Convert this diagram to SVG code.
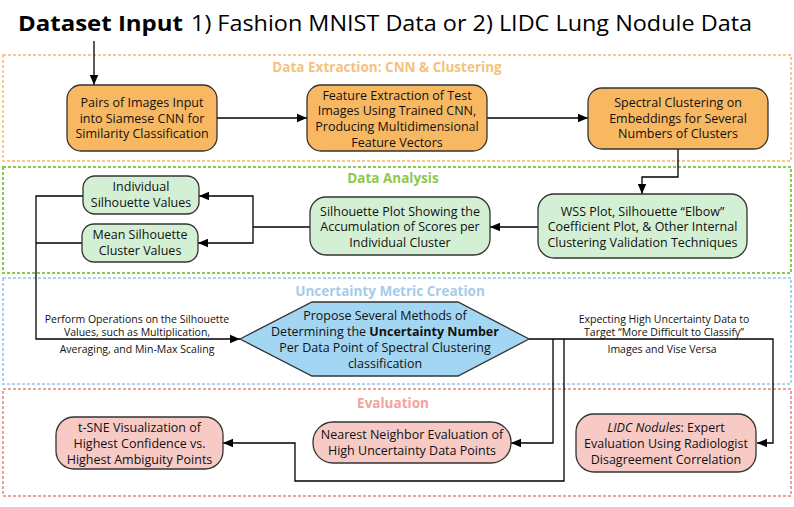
<svg xmlns="http://www.w3.org/2000/svg" width="794" height="507" viewBox="0 0 794 507">
<defs>
<marker id="ah" markerUnits="userSpaceOnUse" markerWidth="10" markerHeight="10" viewBox="0 0 10 10" refX="10" refY="5" orient="auto">
<path d="M0,0.8 L10,5 L0,9.2 Z" fill="#000"/>
</marker>
<style>
.sec{fill:none;stroke-width:2;stroke-dasharray:3 2}
.st{font-family:"Open Sans","Noto Sans",sans-serif;font-weight:bold;font-size:13.5px;text-anchor:middle}
.t{font-family:"Open Sans","Noto Sans",sans-serif;font-size:12.5px;fill:#111;text-anchor:middle}
.s{font-family:"Open Sans","Noto Sans",sans-serif;font-size:10.5px;fill:#111;text-anchor:middle}
.or{fill:#F8B862;stroke:#333;stroke-width:1.3}
.gr{fill:#D4F0D4;stroke:#333;stroke-width:1.3}
.rd{fill:#F8CAC6;stroke:#333;stroke-width:1.3}
.bl{fill:#A3D6F2;stroke:#333;stroke-width:1.3}
.c{fill:none;stroke:#000;stroke-width:1.3}
.a{marker-end:url(#ah)}
</style>
</defs>
<rect width="794" height="507" fill="#fff"/>

<g id="title">
<text x="18" y="31" font-family="Open Sans, Noto Sans, sans-serif" font-size="22" font-weight="bold" fill="#000" textLength="165" lengthAdjust="spacingAndGlyphs">Dataset Input</text>
<text x="191" y="31" font-family="Open Sans, Noto Sans, sans-serif" font-size="22" fill="#000" textLength="561" lengthAdjust="spacingAndGlyphs">1) Fashion MNIST Data or 2) LIDC Lung Nodule Data</text>
</g>

<g id="sections">
<rect class="sec" x="3" y="55" width="788" height="106" stroke="#F6C98B"/>
<text class="st" x="387" y="72" fill="#F5C27D">Data Extraction: CNN &amp; Clustering</text>
<rect class="sec" x="3" y="167" width="788" height="106" stroke="#8DC84E"/>
<text class="st" x="393" y="183" fill="#8DC84E">Data Analysis</text>
<rect class="sec" x="3" y="278" width="788" height="106" stroke="#A9D4EE"/>
<text class="st" x="390" y="296" fill="#A3CDEA">Uncertainty Metric Creation</text>
<rect class="sec" x="3" y="389" width="788" height="107" stroke="#F0A09C"/>
<text class="st" x="393" y="408" fill="#F3A29D">Evaluation</text>
</g>

<g id="connectors">
<path class="c a" d="M94,41 V85"/>
<path class="c a" d="M217,118 H307"/>
<path class="c a" d="M487,118 H588"/>
<path class="c a" d="M678,149 V177 H642 V194"/>
<path class="c a" d="M538,227 H490"/>
<path class="c" d="M310,227 H253"/>
<path class="c a" d="M253,227 V196 H199"/>
<path class="c a" d="M253,227 V243 H198"/>
<path class="c" d="M82,243 H36"/>
<path class="c a" d="M83,196 H36 V339 H240"/>
<path class="c a" d="M529,339 H773 V443 H757"/>
<path class="c a" d="M553,339 V443 H511"/>
<path class="c a" d="M564,339 V481 H295 V443 H223"/>
<text class="s" x="137" y="323">Perform Operations on the Silhouette</text>
<text class="s" x="137" y="336">Values, such as Multiplication,</text>
<text class="s" x="137" y="353">Averaging, and Min-Max Scaling</text>
<text class="s" x="664" y="323">Expecting High Uncertainty Data to</text>
<text class="s" x="664" y="336">Target “More Difficult to Classify”</text>
<text class="s" x="662" y="353">Images and Vise Versa</text>
</g>

<g id="pairs">
<rect class="or" x="67" y="85" width="150" height="66" rx="14"/>
<text class="t" x="142" y="107">Pairs of Images Input</text>
<text class="t" x="142" y="122.5">into Siamese CNN for</text>
<text class="t" x="142" y="138">Similarity Classification</text>
</g>

<g id="feature">
<rect class="or" x="307" y="85" width="180" height="66" rx="14"/>
<text class="t" x="397" y="99.5">Feature Extraction of Test</text>
<text class="t" x="397" y="115">Images Using Trained CNN,</text>
<text class="t" x="397" y="131">Producing Multidimensional</text>
<text class="t" x="397" y="146.5">Feature Vectors</text>
</g>

<g id="spectral">
<rect class="or" x="588" y="88" width="180" height="61" rx="14"/>
<text class="t" x="678" y="107">Spectral Clustering on</text>
<text class="t" x="678" y="122.5">Embeddings for Several</text>
<text class="t" x="678" y="138">Numbers of Clusters</text>
</g>

<g id="wss">
<rect class="gr" x="538" y="194" width="209" height="64" rx="16"/>
<text class="t" x="642.5" y="215.5">WSS Plot, Silhouette “Elbow”</text>
<text class="t" x="642.5" y="231">Coefficient Plot, &amp; Other Internal</text>
<text class="t" x="642.5" y="247">Clustering Validation Techniques</text>
</g>

<g id="silplot">
<rect class="gr" x="310" y="197" width="180" height="58" rx="16"/>
<text class="t" x="400" y="215.5">Silhouette Plot Showing the</text>
<text class="t" x="400" y="231">Accumulation of Scores per</text>
<text class="t" x="400" y="246.5">Individual Cluster</text>
</g>

<g id="individual">
<rect class="gr" x="83" y="176" width="116" height="38" rx="12"/>
<text class="t" x="141" y="190.5">Individual</text>
<text class="t" x="141" y="206.5">Silhouette Values</text>
</g>

<g id="mean">
<rect class="gr" x="82" y="224" width="116" height="38" rx="12"/>
<text class="t" x="140" y="238.5">Mean Silhouette</text>
<text class="t" x="140" y="254.5">Cluster Values</text>
</g>

<g id="uncertainty">
<polygon class="bl" points="240,339 312,302 458,302 529,339 458,376 312,376"/>
<text class="t" x="385" y="319.5">Propose Several Methods of</text>
<text class="t" x="385" y="335.5">Determining the <tspan font-weight="bold">Uncertainty Number</tspan></text>
<text class="t" x="385" y="351.5">Per Data Point of Spectral Clustering</text>
<text class="t" x="385" y="367.5">classification</text>
</g>

<g id="tsne">
<rect class="rd" x="56" y="417" width="167" height="52" rx="18"/>
<text class="t" x="139.5" y="431.5">t-SNE Visualization of</text>
<text class="t" x="139.5" y="447.5">Highest Confidence vs.</text>
<text class="t" x="139.5" y="463.5">Highest Ambiguity Points</text>
</g>

<g id="nearest">
<rect class="rd" x="313" y="422" width="198" height="41" rx="20"/>
<text class="t" x="412" y="438.5">Nearest Neighbor Evaluation of</text>
<text class="t" x="412" y="455">High Uncertainty Data Points</text>
</g>

<g id="lidc">
<rect class="rd" x="576" y="414" width="180" height="58" rx="18"/>
<text class="t" x="666" y="431.5"><tspan font-style="italic">LIDC Nodules</tspan>: Expert</text>
<text class="t" x="666" y="447.5">Evaluation Using Radiologist</text>
<text class="t" x="666" y="463.5">Disagreement Correlation</text>
</g>
</svg>
